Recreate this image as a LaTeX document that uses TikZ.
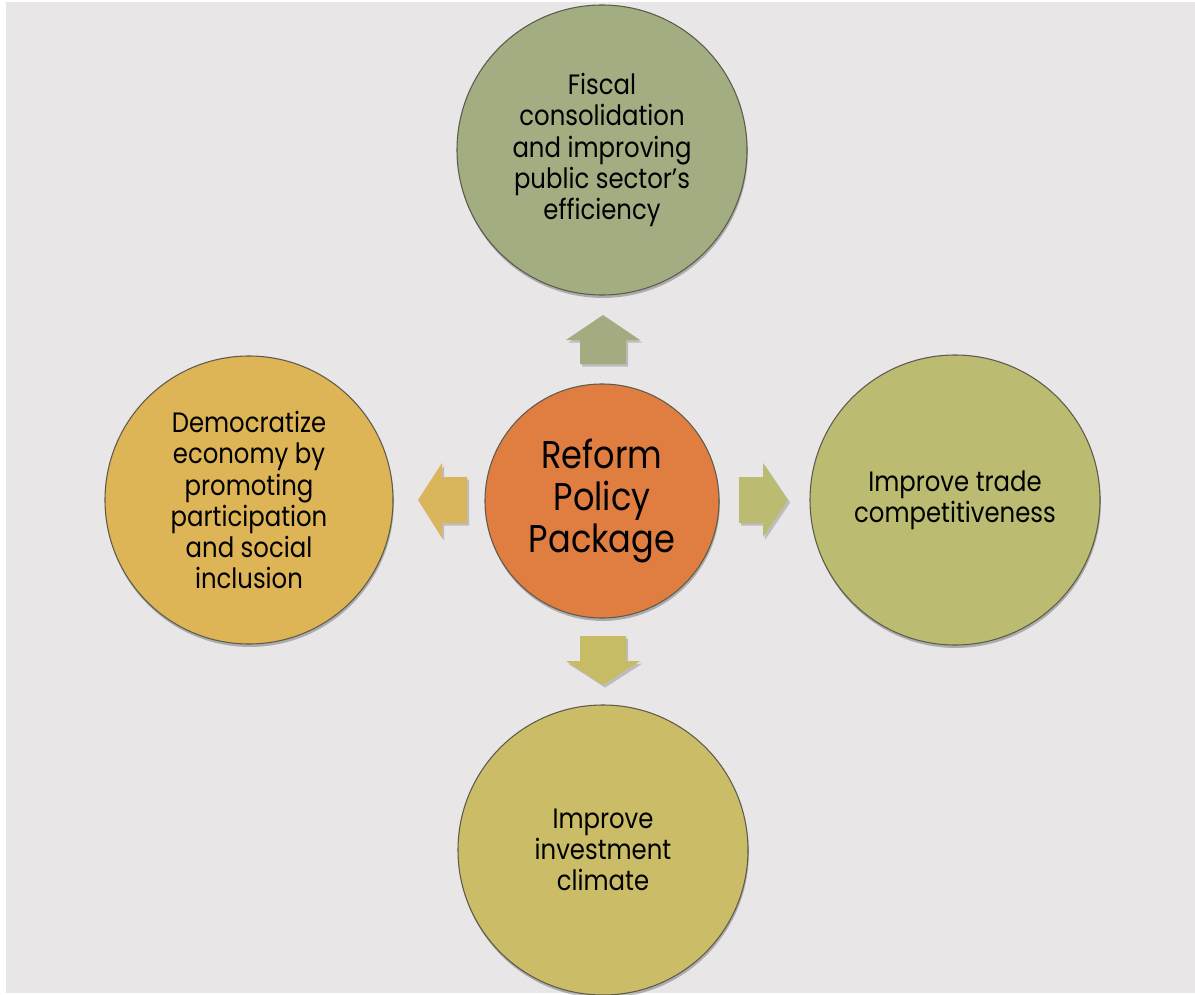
\documentclass[tikz,border=0pt]{standalone}
\usepackage{fontspec}
\setmainfont{Poppins}[FakeStretch=0.87]
\usetikzlibrary{shadows}
\definecolor{bg}{HTML}{E8E6E6}
\definecolor{ctop}{HTML}{A3AD82}
\definecolor{cmid}{HTML}{E07E42}
\definecolor{cleft}{HTML}{DDB456}
\definecolor{cright}{HTML}{BBBC72}
\definecolor{cbot}{HTML}{CBBD68}
\definecolor{atop}{HTML}{A4AB80}
\definecolor{aleft}{HTML}{D9B55C}
\definecolor{aright}{HTML}{BBBC72}
\definecolor{abot}{HTML}{C8BB66}
\definecolor{rim}{HTML}{5E5A4C}
\begin{document}
\begin{tikzpicture}[x=0.75pt,y=-0.75pt,
  bubble/.style={circle,draw=rim,line width=0.8pt,inner sep=0pt,
    drop shadow={shadow xshift=0.6pt,shadow yshift=-2.2pt,opacity=0.25,fill=black}},
  bubtext/.style={align=center,font=\fontsize{21}{23.3}\selectfont,text=black},
  arrowshape/.style={draw=none,
    drop shadow={shadow xshift=1.6pt,shadow yshift=-2pt,opacity=0.18,fill=black}}]
\useasboundingbox (0,0) rectangle (1195,995);
\fill[white] (0,0) rectangle (1195,995);
\fill[bg] (6,2) rectangle (1195,993);
% circles
\node[bubble,fill=ctop,minimum size=217.5pt] (top) at (602,150) {};
\node[bubble,fill=cleft,minimum size=216pt] (left) at (249,500) {};
\node[bubble,fill=cright,minimum size=217.5pt] (right) at (955,500) {};
\node[bubble,fill=cbot,minimum size=217.5pt] (bot) at (603,850) {};
\node[bubble,fill=cmid,minimum size=175.5pt] (mid) at (602,501) {};
% texts
\node[bubtext] (toptxt) at (top.center) {Fiscal\\consolidation\\and improving\\public sector’s\\efficiency};
\node[bubtext] (lefttxt) at (left.center) {Democratize\\economy by\\promoting\\participation\\and social\\inclusion};
\node[bubtext] (righttxt) at (right.center) {Improve trade\\competitiveness};
\node[bubtext] (bottxt) at (bot.center) {Improve\\investment\\climate};
\node[align=center,font=\fontsize{29}{31.5}\selectfont] (midtxt) at (mid.center) {Reform\\Policy\\Package};
% arrows
\fill[arrowshape,fill=atop] (603,315) -- (640,340) -- (626,340) -- (626,364) -- (580,364) -- (580,340) -- (566,340) -- cycle;
\fill[arrowshape,fill=abot] (580,636) -- (626,636) -- (626,661) -- (640,661) -- (603,685) -- (566,661) -- (580,661) -- cycle;
\fill[arrowshape,fill=aleft] (418,500) -- (442,463) -- (442,477) -- (467,477) -- (467,523) -- (442,523) -- (442,538) -- cycle;
\fill[arrowshape,fill=aright] (739,477) -- (763,477) -- (763,463) -- (788,500) -- (763,537) -- (763,523) -- (739,523) -- cycle;
\end{tikzpicture}
\end{document}
